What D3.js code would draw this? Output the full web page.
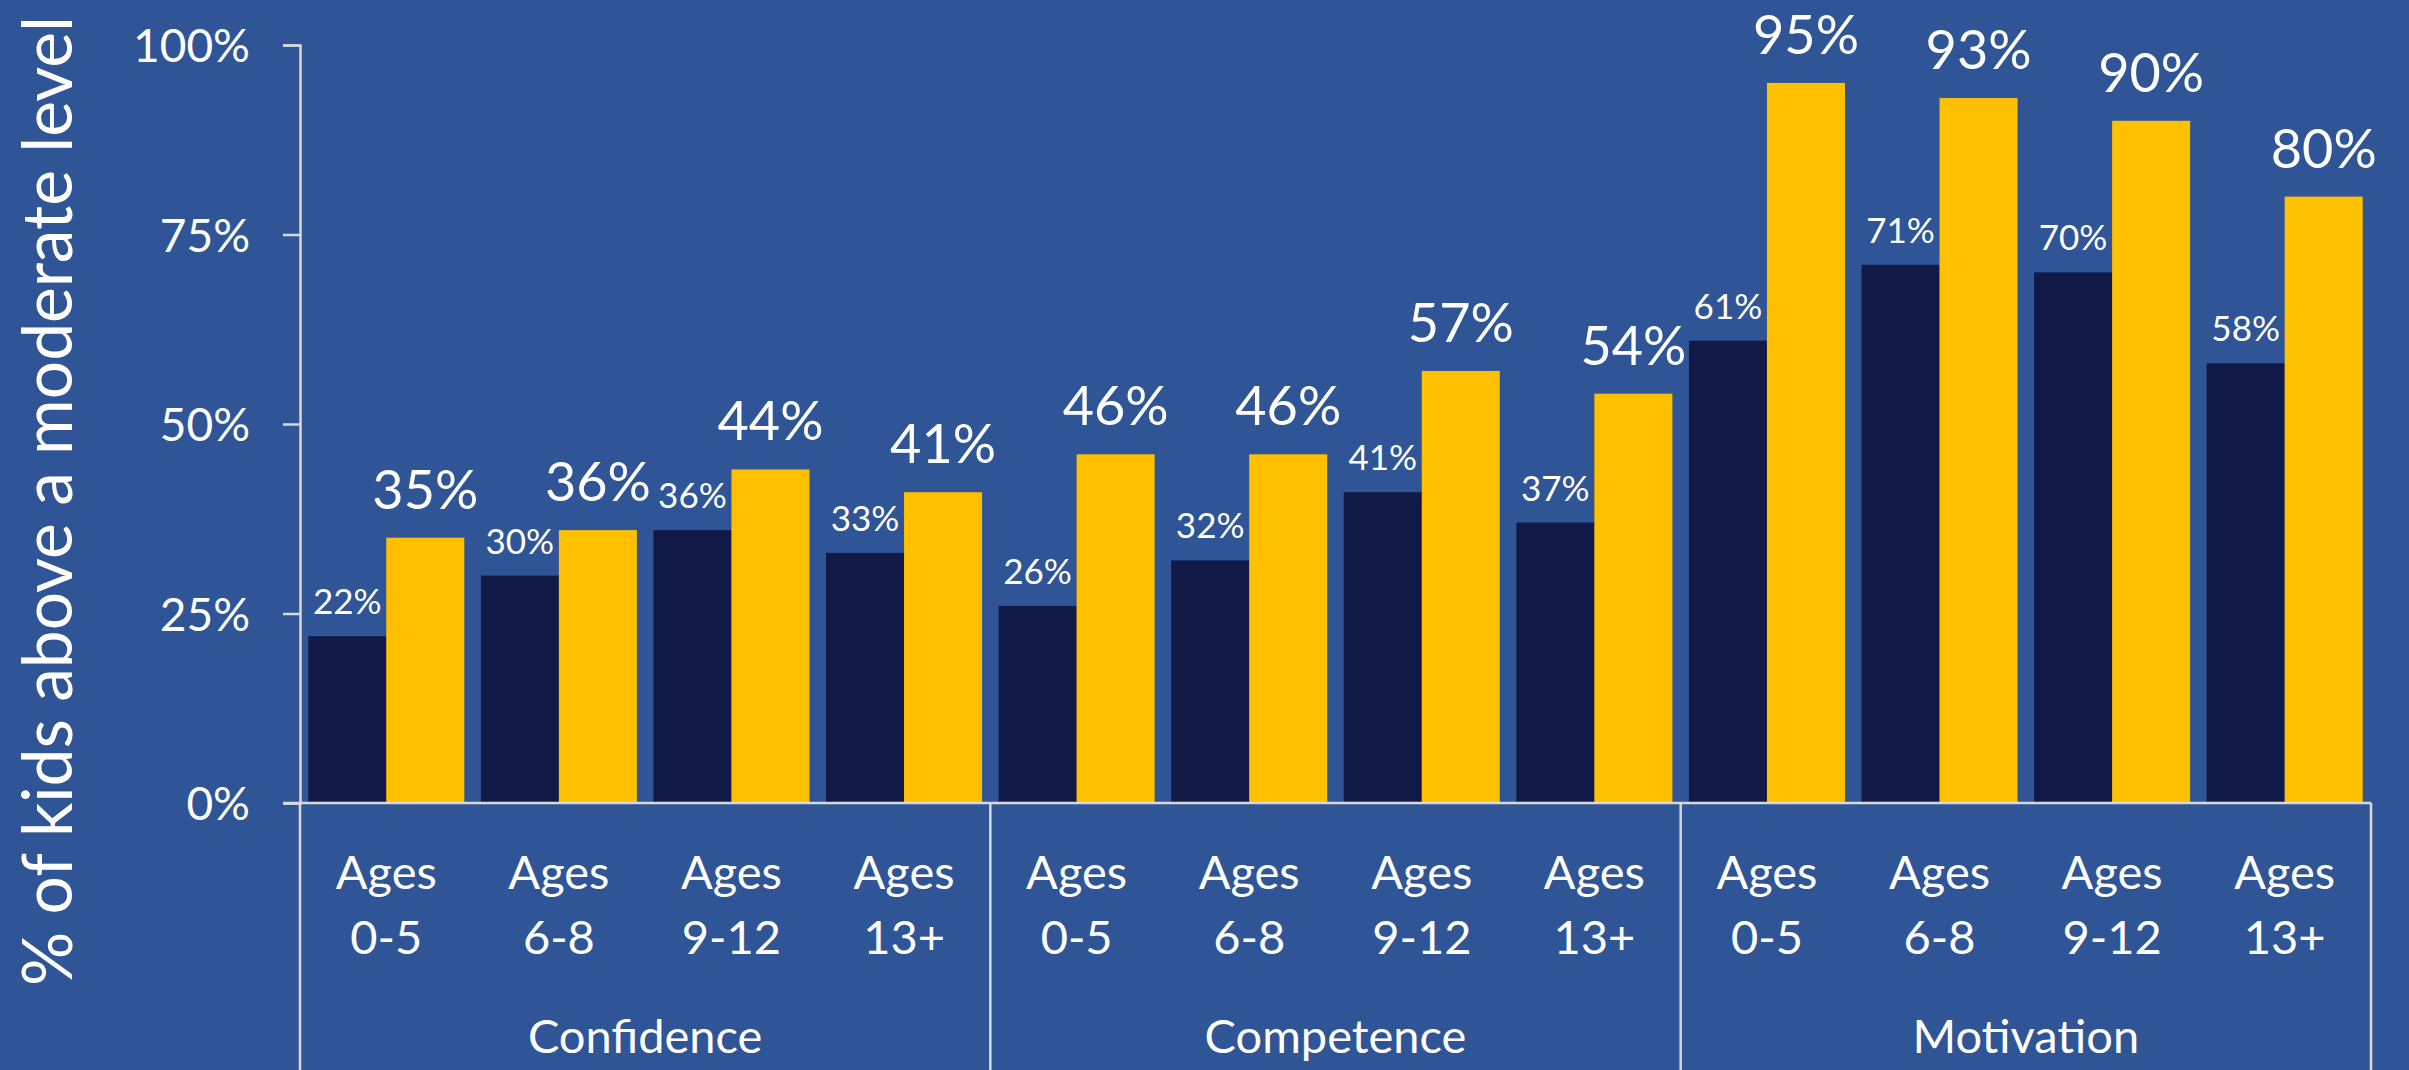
<!DOCTYPE html>
<html>
<head>
<meta charset="utf-8">
<script src="https://cdn.jsdelivr.net/npm/d3@7"></script>
<style>
  body { margin: 0; background: #2F5597; }
  svg text { font-family: Lato, "Open Sans", sans-serif; fill: #ffffff; }
</style>
</head>
<body>
<svg id="chart" width="2409" height="1070"></svg>
<script>
// values
const groups = ["Confidence", "Competence", "Motivation"];
const ages = ["Ages|0-5", "Ages|6-8", "Ages|9-12", "Ages|13+"];
const seriesNames = ["seriesA", "seriesB"];
const seriesA = [22, 30, 36, 33, 26, 32, 41, 37, 61, 71, 70, 58];
const seriesB = [35, 36, 44, 41, 46, 46, 57, 54, 95, 93, 90, 80];
const yTicks = [0, 25, 50, 75, 100];

const colorScale = d3.scaleOrdinal()
    .domain(seriesNames)
    .range(["#111947", "#FFC000"]);

let margin = { top: 45, left: 300, right: 38, bottom: 267 },
    width = 2409 - margin.left - margin.right,
    height = 1070 - margin.top - margin.bottom;

let svg = d3.select("#chart");
svg.append("rect").attr("width", 2409).attr("height", 1070).attr("fill", "#2F5597");

let chart = svg.append("g")
    .attr("transform", "translate(" + margin.left + "," + margin.top + ")");

// flat table: one row per category
let rows = [];
groups.forEach((g, gi) => {
    ages.forEach((a, ai) => {
        let i = gi * ages.length + ai;
        rows.push({ group: g, age: a, key: g + "|" + a, seriesA: seriesA[i], seriesB: seriesB[i] });
    });
});

let xGroup = d3.scaleBand().domain(groups).range([0, width]);
let xCat = d3.scaleBand().domain(rows.map(d => d.key)).range([0, width]);
let xSeries = d3.scaleBand().domain(seriesNames)
    .range([0, xCat.bandwidth()])
    .paddingInner(0)
    .paddingOuter(0.106);
let yScale = d3.scaleLinear().domain([0, 100]).range([height, 0]);

const lineColor = "#D9D9D9";

// y axis
let yAxis = chart.append("g")
    .attr("class", "axis axis-y")
    .call(d3.axisLeft(yScale).tickValues(yTicks).tickFormat(d => d + "%").tickSize(17).tickPadding(33));
yAxis.select(".domain").attr("stroke", lineColor).attr("stroke-width", 2.5);
yAxis.selectAll(".tick line").attr("stroke", lineColor).attr("stroke-width", 2.5);
yAxis.selectAll(".tick text")
    .attr("font-size", 46)
    .attr("dy", "0.36em")
    .style("fill", "#ffffff");

// bars
let cats = chart.selectAll(".cat")
    .data(rows)
    .join("g")
    .attr("class", "cat")
    .attr("transform", d => "translate(" + xCat(d.key) + ",0)");

cats.selectAll("rect")
    .data(d => seriesNames.map(s => ({ series: s, value: d[s] })))
    .join("rect")
    .attr("x", d => xSeries(d.series))
    .attr("y", d => yScale(d.value))
    .attr("width", xSeries.bandwidth())
    .attr("height", d => height - yScale(d.value))
    .attr("fill", d => colorScale(d.series));

// data labels
cats.selectAll("text.val")
    .data(d => seriesNames.map(s => ({ series: s, value: d[s] })))
    .join("text")
    .attr("class", "val")
    .attr("text-anchor", "middle")
    .attr("x", d => xSeries(d.series) + xSeries.bandwidth() / 2)
    .attr("y", d => yScale(d.value) - (d.series === "seriesA" ? 22 : 29))
    .attr("font-size", d => d.series === "seriesA" ? 35 : 54)
    .text(d => d.value + "%");

// baseline
chart.append("line")
    .attr("x1", -17).attr("x2", width)
    .attr("y1", height).attr("y2", height)
    .attr("stroke", lineColor).attr("stroke-width", 2.5);

// group separators
let seps = groups.map(g => xGroup(g)).concat([width]);
chart.selectAll(".sep")
    .data(seps)
    .join("line")
    .attr("class", "sep")
    .attr("x1", d => d).attr("x2", d => d)
    .attr("y1", height).attr("y2", 1070 - margin.top)
    .attr("stroke", lineColor).attr("stroke-width", 2.5);

// category labels (two lines)
let catLabels = chart.selectAll(".catlabel")
    .data(rows)
    .join("text")
    .attr("class", "catlabel")
    .attr("text-anchor", "middle")
    .attr("font-size", 47);
catLabels.append("tspan")
    .attr("x", d => xCat(d.key) + xCat.bandwidth() / 2)
    .attr("y", 889 - margin.top)
    .text(d => d.age.split("|")[0]);
catLabels.append("tspan")
    .attr("x", d => xCat(d.key) + xCat.bandwidth() / 2)
    .attr("y", 954 - margin.top)
    .text(d => d.age.split("|")[1]);

// group labels
chart.selectAll(".grouplabel")
    .data(groups)
    .join("text")
    .attr("class", "grouplabel")
    .attr("text-anchor", "middle")
    .attr("font-size", 47)
    .attr("x", d => xGroup(d) + xGroup.bandwidth() / 2)
    .attr("y", 1053 - margin.top)
    .text(d => d);

// y title: narrow look, fit to 970px length without textLength
let titleG = svg.append("g").attr("transform", "translate(72,986) rotate(-90)");
let title = titleG.append("text")
    .attr("font-size", 70)
    .text("% of kids above a moderate level");
let natural = title.node().getComputedTextLength();
let fs = 70 * 970 / natural;
title.attr("font-size", fs)
    .attr("transform", "scale(1," + (70 / fs) + ")");
</script>
</body>
</html>
